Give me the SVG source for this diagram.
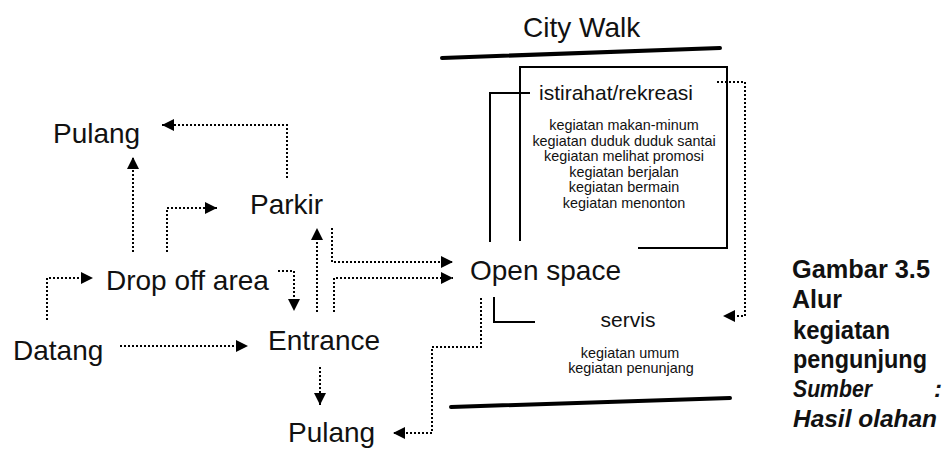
<svg xmlns="http://www.w3.org/2000/svg" width="946" height="450" viewBox="0 0 946 450">
  <defs>
    <marker id="arrow" viewBox="0 0 12 12" refX="12" refY="6" markerWidth="12" markerHeight="12" markerUnits="userSpaceOnUse" orient="auto">
      <path d="M0,0 L12,6 L0,12 z" fill="#000"/>
    </marker>
    <style>
      text { font-family: "Liberation Sans", Arial, sans-serif; fill: #111; }
      .lbl { font-size: 28px; }
      .head { font-size: 21px; text-anchor: middle; }
      .item { font-size: 14.4px; text-anchor: middle; }
      .cap { font-size: 25px; font-weight: bold; }
      .src { font-size: 24px; font-weight: bold; font-style: italic; }
      .flow { fill: none; stroke: #000; stroke-width: 2; stroke-dasharray: 2 2; marker-end: url(#arrow); }
      .frame { fill: none; stroke: #000; stroke-width: 2; }
      .rule { stroke: #000; stroke-width: 4; stroke-linecap: round; }
    </style>
  </defs>

  <rect width="946" height="450" fill="#fff"/>

  <!-- flow connectors -->
  <g id="connectors">
    <path class="flow" d="M47,320 V278 H93"/>
    <path class="flow" d="M120,346 H248"/>
    <path class="flow" d="M278,271 H294 V311"/>
    <path class="flow" d="M133,252 V157"/>
    <path class="flow" d="M167,252 V208 H217"/>
    <path class="flow" d="M287,178 V125 H162"/>
    <path class="flow" d="M317,312 V228"/>
    <path class="flow" d="M332,228 V262 H453"/>
    <path class="flow" d="M334,312 V278 H453"/>
    <path class="flow" d="M320,367 V405"/>
    <path class="flow" d="M481,298 V347 H432 V433 H393"/>
    <path class="flow" d="M717,82 H745 V316 H723"/>
  </g>

  <!-- city walk zone -->
  <g id="city-walk">
    <text class="lbl" x="523" y="37">City Walk</text>
    <line class="rule" x1="442" y1="58" x2="720" y2="48"/>
    <line class="rule" x1="451" y1="407" x2="730" y2="398"/>
  </g>

  <g id="datang">
    <text class="lbl" x="13" y="360">Datang</text>
  </g>

  <g id="drop-off">
    <text class="lbl" x="106" y="290">Drop off area</text>
  </g>

  <g id="pulang-top">
    <text class="lbl" x="53" y="143">Pulang</text>
  </g>

  <g id="parkir">
    <text class="lbl" x="250" y="214">Parkir</text>
  </g>

  <g id="entrance">
    <text class="lbl" x="268" y="350">Entrance</text>
  </g>

  <g id="pulang-bottom">
    <text class="lbl" x="288" y="442">Pulang</text>
  </g>

  <g id="open-space">
    <text class="lbl" x="470" y="280">Open space</text>
  </g>

  <g id="istirahat">
    <path class="frame" d="M520,241 V67 H727 V248 H638"/>
    <path class="frame" d="M490,242 V93 H530"/>
    <text class="head" x="616" y="100">istirahat/rekreasi</text>
    <text class="item" x="624" y="130">kegiatan makan-minum</text>
    <text class="item" x="624" y="145.5">kegiatan duduk duduk santai</text>
    <text class="item" x="624" y="161">kegiatan melihat promosi</text>
    <text class="item" x="624" y="176.5">kegiatan berjalan</text>
    <text class="item" x="624" y="192">kegiatan bermain</text>
    <text class="item" x="624" y="207.5">kegiatan menonton</text>
  </g>

  <g id="servis">
    <path class="frame" d="M494,297 V322 H535"/>
    <text class="head" x="628" y="327">servis</text>
    <text class="item" x="630" y="358">kegiatan umum</text>
    <text class="item" x="631" y="373">kegiatan penunjang</text>
  </g>

  <g id="caption">
    <text class="cap" x="792" y="278" textLength="138" lengthAdjust="spacingAndGlyphs">Gambar 3.5</text>
    <text class="cap" x="792" y="308">Alur</text>
    <text class="cap" x="793" y="339" textLength="97" lengthAdjust="spacingAndGlyphs">kegiatan</text>
    <text class="cap" x="793" y="368" textLength="134" lengthAdjust="spacingAndGlyphs">pengunjung</text>
    <text class="src" x="793" y="397" textLength="79" lengthAdjust="spacingAndGlyphs">Sumber</text>
    <text class="src" x="934" y="397">:</text>
    <text class="src" x="793" y="427" textLength="144" lengthAdjust="spacingAndGlyphs">Hasil olahan</text>
  </g>
</svg>
